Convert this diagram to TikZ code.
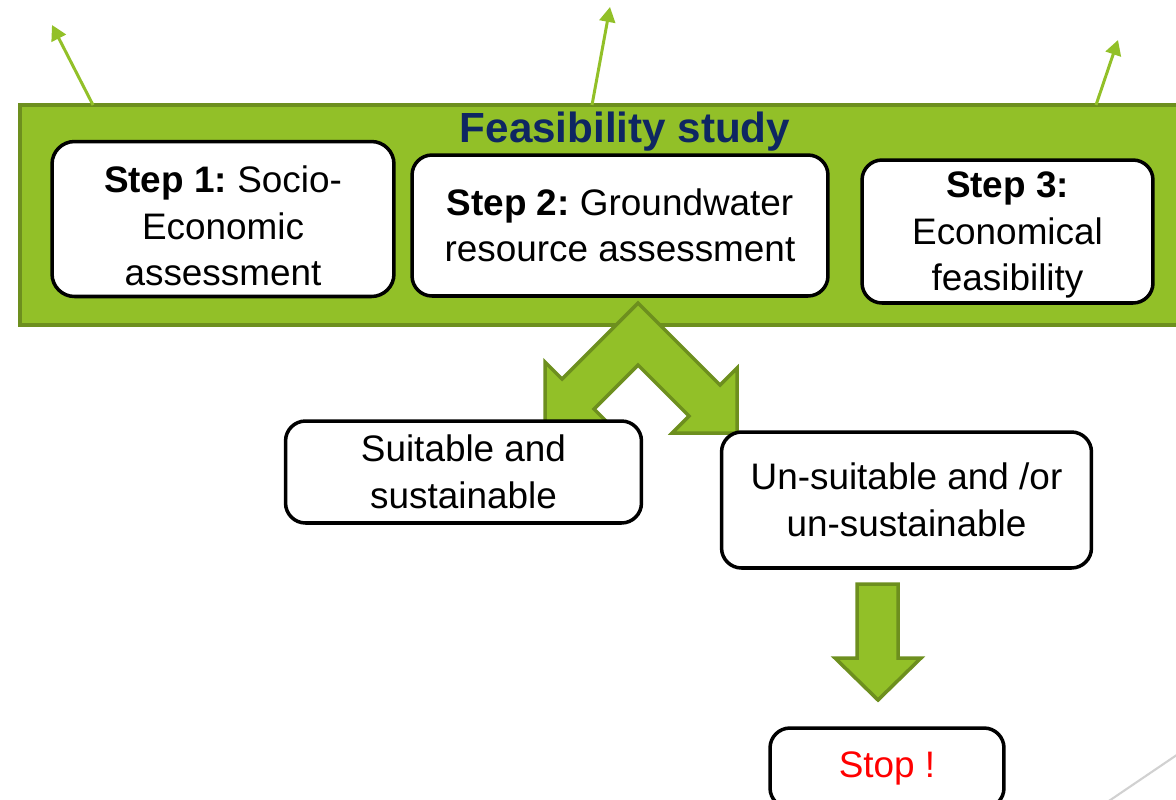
\documentclass[tikz,border=0pt]{standalone}
\usepackage{fontspec}
\setmainfont{Liberation Sans}
\usetikzlibrary{arrows.meta}
\definecolor{leaf}{RGB}{146,192,40}
\definecolor{leafdark}{RGB}{109,143,30}
\definecolor{titleblue}{RGB}{14,38,98}
\frenchspacing

\begin{document}
\begin{tikzpicture}[x=0.02cm, y=-0.02cm,%
  stepbox/.style={draw=black, line width=2pt, fill=white, rounded corners=0.4cm,
    align=center, inner sep=0pt, font=\fontsize{21pt}{26.5pt}\selectfont},
  uparrow/.style={draw=leaf, line width=1.7pt, -{Triangle[length=8.5pt,width=9pt]}},
  blockarrow/.style={fill=leaf, draw=leafdark, line width=2pt, line join=miter}
  ]
  \useasboundingbox (0,0) rectangle (1176,799);
  \clip (0,0) rectangle (1176,799);

  % the green band
  \node[fill=leaf, draw=leafdark, line width=2.2pt, minimum width=23.44cm,
    minimum height=4.4cm, inner sep=0pt, anchor=north west] (band) at (18,103) {};
  \coordinate (a1s) at (93,105);   \coordinate (a1e) at (52,25);
  \coordinate (a2s) at (592,105);  \coordinate (a2e) at (610,7);
  \coordinate (a3s) at (1096,105); \coordinate (a3e) at (1118,40);
  \draw[uparrow] (a1s) -- (a1e);
  \draw[uparrow] (a2s) -- (a2e);
  \draw[uparrow] (a3s) -- (a3e);

  \node[font=\fontsize{24pt}{28pt}\selectfont\bfseries, text=titleblue, anchor=base]
    (title) at (625,142) {Feasibility study};

  \node[stepbox, minimum width=6.84cm, minimum height=3.1cm, rounded corners=0.45cm]
    (step1) at (223,219) {\rule{0pt}{0.82cm}\textbf{Step 1:} Socio-\\Economic\\assessment};
  \node[stepbox, minimum width=8.32cm, minimum height=2.82cm]
    (step2) at (620,225.5) {\textbf{Step 2:} Groundwater\\resource assessment};
  \node[stepbox, minimum width=5.82cm, minimum height=2.86cm]
    (step3) at (1007.5,231.5) {\rule{0pt}{0.66cm}\textbf{Step 3:}\\Economical\\feasibility};

  % split arrow
  \draw[blockarrow] (638,303) -- (720,385) -- (737,368) -- (737,433) -- (672,433)
    -- (689,416) -- (638,365) -- (594,409) -- (611,426) -- (545,426)
    -- (545,362) -- (562,379) -- cycle;

  \node[stepbox, minimum width=7.12cm, minimum height=2.04cm]
    (good) at (463.5,472) {Suitable and\\sustainable};
  \node[stepbox, minimum width=7.4cm, minimum height=2.72cm]
    (bad) at (906.5,500) {Un-suitable and /or\\un-sustainable};

  \draw[blockarrow] (857,584) -- (898,584) -- (898,658) -- (921,658) -- (878,700)
    -- (835,658) -- (857,658) -- cycle;

  \node[stepbox, minimum width=4.68cm, minimum height=1.6cm, text=red]
    (stop) at (887,768) {Stop !};

  \draw[black!18, line width=1.2pt] (1100,807) -- (1190,746);
\end{tikzpicture}
\end{document}
